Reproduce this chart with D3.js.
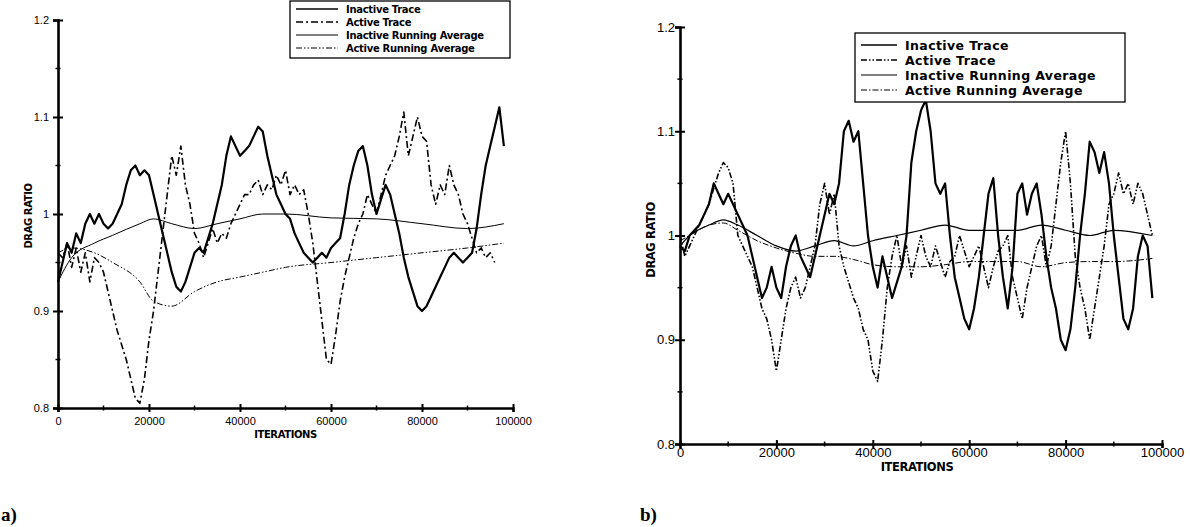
<!DOCTYPE html>
<html lang="en">
<head>
  <meta charset="UTF-8">
  <title>drag ratio traces</title>
  <style>
    body { margin: 0; background: #fff; }
    text { font-family: "Liberation Sans", Arial, sans-serif; fill: #000; }
  </style>
</head>
<body>
  <script src="https://cdnjs.cloudflare.com/ajax/libs/d3/7.8.5/d3.min.js"></script>
  <script>
  // sample grid of the traces (one reading every 1000 iterations)
  var traceIters = d3.range(0, 99000, 1000);

  var yTicks = [0.8, 0.9, 1, 1.1, 1.2];
  var yTickLabels = ["0.8", "0.9", "1", "1.1", "1.2"];
  var xTicks = [0, 20000, 40000, 60000, 80000, 100000];
  var xTickLabels = ["0", "20000", "40000", "60000", "80000", "100000"];
  var seriesNames = ["Inactive Trace", "Active Trace", "Inactive Running Average", "Active Running Average"];

  // ---- panel a ----
  var aInactiveTrace = [0.93,0.95,0.97,0.96,0.98,0.97,0.99,1.00,0.99,1.00,
    0.99,0.985,0.99,1.00,1.01,1.03,1.045,1.05,1.04,1.045,
    1.04,1.02,1.00,0.98,0.96,0.94,0.925,0.92,0.93,0.945,
    0.96,0.965,0.96,0.975,0.99,1.01,1.03,1.06,1.08,1.07,
    1.06,1.065,1.07,1.08,1.09,1.085,1.06,1.04,1.02,1.01,
    1.00,0.995,0.98,0.97,0.96,0.955,0.95,0.955,0.96,0.955,
    0.965,0.97,0.975,1.00,1.03,1.05,1.065,1.07,1.05,1.02,
    1.00,1.015,1.03,1.02,1.00,0.98,0.955,0.935,0.92,0.905,
    0.90,0.905,0.915,0.925,0.935,0.945,0.955,0.96,0.955,0.95,
    0.955,0.96,0.985,1.02,1.05,1.07,1.09,1.11,1.07];
  var aActiveTrace = [0.96,0.955,0.97,0.945,0.965,0.94,0.96,0.93,0.955,0.95,
    0.94,0.92,0.90,0.88,0.865,0.85,0.83,0.81,0.805,0.83,
    0.87,0.90,0.94,0.98,1.02,1.06,1.04,1.07,1.03,1.01,
    0.98,0.97,0.955,0.97,0.985,0.97,0.98,0.975,0.99,1.00,
    1.01,1.02,1.02,1.03,1.035,1.02,1.03,1.025,1.04,1.03,
    1.045,1.02,1.03,1.02,1.025,1.00,0.97,0.93,0.89,0.85,
    0.845,0.875,0.91,0.935,0.955,0.975,0.99,1.00,1.02,1.01,
    1.00,1.02,1.04,1.05,1.06,1.08,1.105,1.06,1.08,1.10,
    1.08,1.075,1.03,1.01,1.03,1.02,1.05,1.03,1.02,1.00,
    0.99,0.975,0.96,0.965,0.955,0.96,0.95];
  var aAvgIters = [0, 3000, 8000, 12000, 18000, 21000, 25000, 30000, 35000, 40000, 45000, 50000, 60000, 70000, 80000, 90000, 98000];
  var aInactiveAvg = [0.93, 0.955, 0.97, 0.978, 0.99, 0.995, 0.99, 0.985, 0.99, 0.995, 1.0, 1.0, 0.996, 0.995, 0.99, 0.985, 0.99];
  var aActiveAvg = [0.96, 0.965, 0.96, 0.95, 0.93, 0.91, 0.905, 0.92, 0.93, 0.935, 0.94, 0.945, 0.95, 0.955, 0.96, 0.965, 0.97];

  // ---- panel b ----
  var bInactiveTrace = [0.99,0.985,1.00,1.005,1.01,1.02,1.03,1.05,1.04,1.03,
    1.04,1.03,1.02,1.01,1.00,0.98,0.96,0.94,0.95,0.97,
    0.95,0.94,0.97,0.99,1.00,0.98,0.97,0.96,0.98,1.00,
    1.02,1.04,1.03,1.05,1.10,1.11,1.09,1.10,1.05,1.00,
    0.97,0.95,0.98,0.96,0.94,0.955,0.97,1.00,1.07,1.10,
    1.12,1.13,1.10,1.05,1.04,1.05,1.00,0.96,0.94,0.92,
    0.91,0.93,0.96,1.00,1.04,1.055,1.00,0.96,0.93,0.97,
    1.04,1.05,1.02,1.04,1.05,1.02,0.98,0.95,0.93,0.90,
    0.89,0.91,0.95,1.00,1.04,1.09,1.08,1.06,1.08,1.05,
    1.00,0.96,0.92,0.91,0.93,0.98,1.00,0.99,0.94];
  var bActiveTrace = [1.00,0.98,0.99,1.00,1.01,1.02,1.03,1.045,1.06,1.07,
    1.065,1.05,1.00,0.99,0.98,0.97,0.95,0.93,0.92,0.90,
    0.87,0.90,0.93,0.95,0.96,0.94,0.95,0.97,0.99,1.03,
    1.05,1.02,1.04,0.99,0.97,0.955,0.94,0.93,0.91,0.90,
    0.87,0.86,0.90,0.95,0.98,1.00,0.97,0.99,0.96,0.98,
    1.00,0.98,0.97,0.99,0.975,0.96,0.975,0.98,1.00,0.985,
    0.97,0.98,0.99,0.97,0.95,0.97,0.985,0.99,1.00,0.96,
    0.94,0.92,0.95,0.97,0.99,1.00,0.97,0.99,1.03,1.07,
    1.10,1.05,0.98,0.95,0.93,0.90,0.93,0.96,0.99,1.03,
    1.04,1.06,1.04,1.05,1.03,1.05,1.04,1.02,1.00];
  var bAvgIters = [0, 2000, 6000, 9000, 12000, 16000, 20000, 24000, 28000, 32000, 36000, 40000, 45000, 50000, 55000, 60000, 70000, 75000, 80000, 85000, 90000, 98000];
  var bInactiveAvg = [0.99, 1.0, 1.01, 1.015, 1.01, 1.0, 0.99, 0.985, 0.99, 0.995, 0.99, 0.995, 1.0, 1.005, 1.01, 1.005, 1.005, 1.01, 1.005, 1.0, 1.005, 1.0];
  var bActiveAvg = [0.995, 1.0, 1.01, 1.012, 1.005, 0.995, 0.988, 0.983, 0.98, 0.98, 0.977, 0.972, 0.97, 0.97, 0.972, 0.975, 0.975, 0.97, 0.974, 0.975, 0.975, 0.978];

  var W = 1190, H = 527;
  var svg = d3.select('body').append('svg').attr('width', W).attr('height', H);
  var boldFont = '"DejaVu Sans", "Liberation Sans", sans-serif';

  function zip(xs, ys) {
    return ys.map(function (v, i) { return [xs[i], v]; });
  }

  function panel(cfg) {
    var x = d3.scaleLinear().domain([0, 100000]).range([cfg.left, cfg.right]);
    var y = d3.scaleLinear().domain([0.8, 1.2]).range([cfg.bottom, cfg.top]);
    var g = svg.append('g');

    var line = d3.line().x(function (d) { return x(d[0]); }).y(function (d) { return y(d[1]); });
    var smooth = d3.line().curve(d3.curveMonotoneX)
      .x(function (d) { return x(d[0]); }).y(function (d) { return y(d[1]); });

    cfg.series.forEach(function (s) {
      g.append('path')
        .datum(zip(s.iters, s.values))
        .attr('d', s.smooth ? smooth : line)
        .attr('fill', 'none')
        .attr('stroke', '#000')
        .attr('stroke-width', s.width)
        .attr('stroke-dasharray', s.dash || null)
        .attr('stroke-linejoin', 'round');
    });

    // y axis, ticks cross the line
    var yAx = g.append('g').attr('transform', 'translate(' + cfg.left + ',0)')
      .call(d3.axisLeft(y).tickValues(yTicks).tickSize(5)
        .tickFormat(function (d, i) { return yTickLabels[i]; }));
    yAx.select('.domain').attr('stroke-width', 2.6);
    yAx.selectAll('.tick line').attr('x1', 5).attr('stroke-width', 2);
    yAx.selectAll('.tick text').attr('x', cfg.yLabelDx).style('font-size', cfg.tickFont);
    g.selectAll('.yminor').data([0.85, 0.95, 1.05, 1.15]).enter().append('line')
      .attr('x1', cfg.left - 2.5).attr('x2', cfg.left + 2.5)
      .attr('y1', function (d) { return y(d); }).attr('y2', function (d) { return y(d); })
      .attr('stroke', '#000').attr('stroke-width', 1.5);

    // x axis
    var xAx = g.append('g').attr('transform', 'translate(0,' + cfg.bottom + ')')
      .call(d3.axisBottom(x).tickValues(xTicks).tickSize(4)
        .tickFormat(function (d, i) { return xTickLabels[i]; }));
    xAx.select('.domain').attr('stroke-width', 2.4);
    xAx.selectAll('.tick line').attr('y1', -4).attr('stroke-width', 2);
    xAx.selectAll('.tick text').attr('y', cfg.xLabelDy).style('font-size', cfg.tickFont);
    g.selectAll('.xminor').data([10000, 30000, 50000, 70000, 90000]).enter().append('line')
      .attr('x1', function (d) { return x(d); }).attr('x2', function (d) { return x(d); })
      .attr('y1', cfg.bottom - 2.5).attr('y2', cfg.bottom + 2.5)
      .attr('stroke', '#000').attr('stroke-width', 1.5);

    svg.selectAll('.domain').attr('stroke-linecap', 'butt');

    // titles
    g.append('text').attr('x', (cfg.left + cfg.right) / 2 + cfg.xTitleShift).attr('y', cfg.bottom + cfg.xTitleDy)
      .attr('text-anchor', 'middle').style('font-family', boldFont).style('font-size', cfg.titleFont)
      .style('font-weight', 'bold').style('letter-spacing', '-0.4px').text('ITERATIONS');
    g.append('text')
      .attr('transform', 'translate(' + cfg.yTitleX + ',' + cfg.yTitleY + ') rotate(-90)')
      .attr('text-anchor', 'middle').style('font-family', boldFont).style('font-size', cfg.titleFont)
      .style('font-weight', 'bold').style('letter-spacing', '-0.4px').text('DRAG RATIO');
    g.append('text').attr('x', cfg.tagX).attr('y', 521)
      .style('font-family', '"Liberation Serif", "Times New Roman", serif')
      .style('font-size', '19px').style('font-weight', 'bold').text(cfg.tag);

    // legend
    var L = cfg.legend;
    g.append('rect').attr('x', L.x).attr('y', L.y).attr('width', L.w).attr('height', L.h)
      .attr('fill', '#fff').attr('stroke', '#000').attr('stroke-width', 1.3);
    cfg.series.forEach(function (s, i) {
      var yy = L.y + L.first + i * L.step;
      g.append('line').attr('x1', L.x + 6).attr('x2', L.x + 6 + L.sample)
        .attr('y1', yy).attr('y2', yy)
        .attr('stroke', '#000').attr('stroke-width', Math.min(s.width, 1.6))
        .attr('stroke-dasharray', s.dash || null);
      g.append('text').attr('x', L.x + L.sample + L.gap).attr('y', yy + L.font * 0.36)
        .style('font-family', boldFont)
        .style('font-size', L.font + 'px').style('font-weight', 'bold').style('letter-spacing', L.spacing)
        .text(seriesNames[i]);
    });
  }

  panel({
    left: 58, right: 513, top: 20, bottom: 408,
    tickFont: '11px', titleFont: '10px',
    yLabelDx: -9, xLabelDy: 9, xTitleDy: 30, xTitleShift: 0,
    yTitleX: 32, yTitleY: 216,
    tag: 'a)', tagX: 1,
    legend: { x: 290, y: 1, w: 220, h: 57, first: 8, step: 13, sample: 42, gap: 14, font: 10, spacing: '-0.3px' },
    series: [
      { iters: traceIters, values: aInactiveTrace, width: 2.2 },
      { iters: traceIters, values: aActiveTrace, width: 1.6, dash: '7,3,2,3' },
      { iters: aAvgIters, values: aInactiveAvg, width: 1, smooth: true },
      { iters: aAvgIters, values: aActiveAvg, width: 1, smooth: true, dash: '6,2,1.5,2,1.5,2' }
    ]
  });

  panel({
    left: 680, right: 1162, top: 27, bottom: 444,
    tickFont: '13px', titleFont: '11.5px',
    yLabelDx: -5, xLabelDy: 4, xTitleDy: 27, xTitleShift: -4,
    yTitleX: 655, yTitleY: 240,
    tag: 'b)', tagX: 640,
    legend: { x: 855, y: 33, w: 270, h: 69, first: 12, step: 15, sample: 36, gap: 14, font: 12.5, spacing: '0.4px' },
    series: [
      { iters: traceIters, values: bInactiveTrace, width: 2.2 },
      { iters: traceIters, values: bActiveTrace, width: 1.6, dash: '6,2,1.5,2,1.5,2' },
      { iters: bAvgIters, values: bInactiveAvg, width: 1.2, smooth: true },
      { iters: bAvgIters, values: bActiveAvg, width: 1, smooth: true, dash: '6,2,1.5,2' }
    ]
  });
  </script>
</body>
</html>
